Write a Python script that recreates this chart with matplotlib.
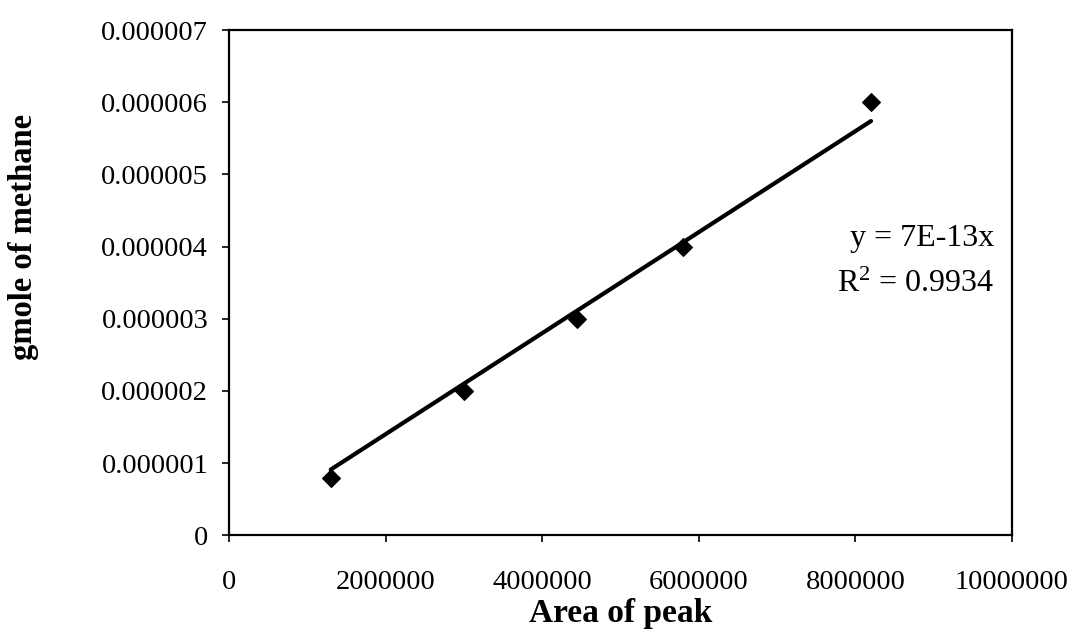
import matplotlib.pyplot as plt
import numpy as np

# calibration points
area = [1300000, 3000000, 4450000, 5800000, 8200000]
gmole = [0.0000008, 0.000002, 0.000003, 0.000004, 0.000006]
slope = 7e-13

xticks = [0, 2000000, 4000000, 6000000, 8000000, 10000000]
yticks = [0, 0.000001, 0.000002, 0.000003, 0.000004, 0.000005, 0.000006, 0.000007]
ylabels = ['0', '0.000001', '0.000002', '0.000003', '0.000004',
           '0.000005', '0.000006', '0.000007']

plt.rcParams['font.family'] = ['Liberation Serif', 'DejaVu Serif']
plt.rcParams['mathtext.fontset'] = 'custom'
plt.rcParams['mathtext.rm'] = 'Liberation Serif'
plt.rcParams['mathtext.it'] = 'Liberation Serif:italic'
plt.rcParams['mathtext.bf'] = 'Liberation Serif:bold'

fig = plt.figure(figsize=(10.76, 6.41), dpi=100)
ax = fig.add_axes([0.2128, 0.165, 0.9405 - 0.2128, 0.953 - 0.165])

fit_x = np.array([min(area), max(area)])
ax.plot(fit_x, slope * fit_x, color='black', lw=3, solid_capstyle='round')
ax.scatter(area, gmole, marker='D', s=80, color='black', zorder=3)

ax.set_xlim(0, 10000000)
ax.set_ylim(0, 0.000007)
ax.set_xticks(xticks, [str(t) for t in xticks])
ax.set_yticks(yticks, ylabels)
ax.tick_params(axis='both', direction='out', length=5, width=1.2, labelsize=20.5)
ax.tick_params(axis='x', pad=20)
ax.tick_params(axis='y', pad=10)
for s in ax.spines.values():
    s.set_linewidth(1.6)

ax.set_xlabel('Area of peak', fontsize=24, fontweight='bold', labelpad=2)
ax.set_ylabel('gmole of methane', fontsize=23.5, fontweight='bold')
ax.yaxis.set_label_coords(-0.242, 0.59)

ax.text(0.977, 0.588, 'y = 7E-13x', transform=ax.transAxes,
        ha='right', va='center', fontsize=23)
ax.text(0.977, 0.497, 'R$^{2}$ = 0.9934', transform=ax.transAxes,
        ha='right', va='center', fontsize=23)

fig.savefig('out.png', dpi=100)
